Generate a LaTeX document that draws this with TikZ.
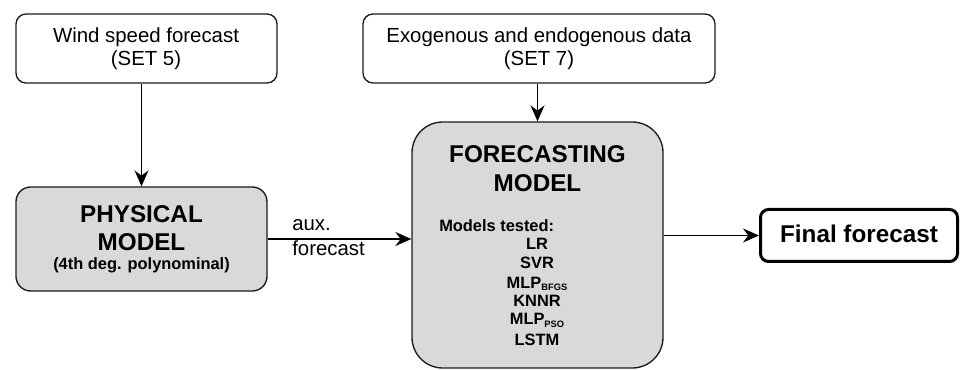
\documentclass[tikz,border=0pt]{standalone}
\usepackage{fontspec}
\setmainfont{Liberation Sans}
\usetikzlibrary{arrows.meta}
\definecolor{boxgray}{HTML}{D9D9D9}
\definecolor{edge}{HTML}{1A1A1A}
\tikzset{
  inbox/.style={draw=edge, line width=1pt, fill=white, rounded corners=7.5pt, minimum width=195.75pt, minimum height=51.75pt, inner sep=0pt},
  modelbox/.style={draw=edge, line width=1pt, fill=boxgray, inner sep=0pt},
  outbox/.style={draw=black, line width=2.25pt, fill=white, rounded corners=6pt, minimum width=147.75pt, minimum height=39pt, inner sep=0pt},
  conn/.style={draw=black, line width=1pt, -{Stealth[length=12pt, width=10.5pt, inset=4pt]}},
  reg/.style={font=\fontsize{15.3}{18}\selectfont, inner sep=0pt, anchor=base},
  bigb/.style={font=\fontsize{18.2}{21}\selectfont\bfseries, inner sep=0pt, anchor=base},
  smallb/.style={font=\fontsize{12.3}{14}\selectfont\bfseries, inner sep=0pt, anchor=base},
}
\newcommand{\subsc}[1]{\raisebox{-2pt}{\fontsize{7}{8}\selectfont #1}}
\begin{document}
\begin{tikzpicture}[x=0.75pt, y=-0.75pt]
\useasboundingbox (0,0) rectangle (960,370);
% input boxes
\node[inbox] (wind) at (146.5,48.5) {};
\node[reg] (wt1) at (146,43) {Wind speed forecast};
\node[reg] (wt2) at (146,66) {(SET 5)};
\node[inbox, minimum width=264pt] (exo) at (539,48.5) {};
\node[reg] (et1) at (539,43) {Exogenous and endogenous data};
\node[reg] (et2) at (539,66) {(SET 7)};
% physical model
\node[modelbox, rounded corners=11pt, minimum width=188.25pt, minimum height=78pt] (phys) at (141.5,239) {};
\node[bigb] (pt1) at (141.5,223) {PHYSICAL};
\node[bigb] (pt2) at (141.5,251) {MODEL};
\node[smallb] (pt3) at (141.5,270) {(4th deg. polynominal)};
% forecasting model
\node[modelbox, rounded corners=23pt, minimum width=188.25pt, minimum height=184.5pt] (fc) at (537.5,245) {};
\node[bigb] (ft1) at (537.5,163) {FORECASTING};
\node[bigb] (ft2) at (537.5,192) {MODEL};
\node[smallb, anchor=base west] (ft3) at (439,232) {Models tested:};
\node[smallb] (m1) at (537,250) {LR};
\node[smallb] (m2) at (537,269) {SVR};
\node[smallb] (m3) at (537,288) {MLP\subsc{BFGS}};
\node[smallb] (m4) at (537,306) {KNNR};
\node[smallb] (m5) at (537,325) {MLP\subsc{PSO}};
\node[smallb] (m6) at (537,345) {LSTM};
% final
\node[outbox] (final) at (859,235.5) {};
\node[bigb] (fl) at (859,243) {Final forecast};
% connectors
\draw[conn] (phys.north |- wind.south) -- (phys.north);
\draw[conn] (fc.north |- exo.south) -- (fc.north);
\draw[conn] (phys.east) -- (phys.east -| fc.west);
\draw[conn] (fc.east |- final.west) -- (final.west);
\node[reg, anchor=base west] (aux1) at (292,231) {aux.};
\node[reg, anchor=base west] (aux2) at (292,256) {forecast};
\end{tikzpicture}
\end{document}
